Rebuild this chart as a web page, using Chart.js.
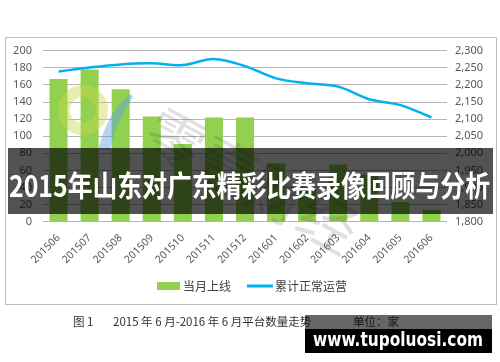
<!DOCTYPE html>
<html>
<head>
<meta charset="utf-8">
<script src="https://cdn.jsdelivr.net/npm/chart.js@4.4.1/dist/chart.umd.min.js"></script>
<style>
  html, body { margin: 0; padding: 0; background: #fff; }
  #wrap { width: 500px; height: 362px; position: relative; }
</style>
</head>
<body>
<div id="wrap"><canvas id="c" width="500" height="362"></canvas></div>
<script>
/* data */
var months = ['201506', '201507', '201508', '201509', '201510', '201511', '201512',
              '201601', '201602', '201603', '201604', '201605', '201606'];
var monthlyNew = [167, 178, 155, 123, 91, 122, 122, 68, 40, 67, 55, 23, 14];
var cumulative = [2239, 2251, 2260, 2263, 2258, 2276, 2255, 2219, 2205, 2195, 2158, 2141, 2105];
var seriesNames = ['当月上线', '累计正常运营'];
var bannerText = '2015年山东对广东精彩比赛录像回顾与分析';
var captionParts = ['图 1', '2015 年 6 月-2016 年 6 月平台数量走势', '单位：家'];
var siteText = 'www.tupoluosi.com';

var GREEN = '#92D050';
var BLUE = '#00B0F0';
var TICK = '#595959';

/* frame + background */
var framePlugin = {
  id: 'frame',
  beforeDraw: function(chart) {
    var ctx = chart.ctx;
    ctx.save();
    ctx.fillStyle = '#fff';
    ctx.fillRect(0, 0, chart.width, chart.height);
    ctx.strokeStyle = '#bdbdbd';
    ctx.lineWidth = 1;
    ctx.strokeRect(5.5, 37.5, 491, 267);
    ctx.restore();
  }
};

/* faint logo watermark over the plot */
var watermarkPlugin = {
  id: 'watermark',
  afterDatasetsDraw: function(chart) {
    var ctx = chart.ctx;
    ctx.save();
    ctx.strokeStyle = 'rgba(205,215,80,0.45)';
    ctx.lineWidth = 12;
    ctx.beginPath();
    ctx.arc(83, 110, 19, 0, Math.PI * 2);
    ctx.stroke();

    ctx.fillStyle = 'rgba(90,160,225,0.45)';
    ctx.beginPath();
    ctx.moveTo(131, 94);
    ctx.quadraticCurveTo(108, 110, 98, 150);
    ctx.lineTo(110, 150);
    ctx.quadraticCurveTo(118, 118, 133, 97);
    ctx.closePath();
    ctx.fill();

    ctx.translate(150, 125);
    ctx.rotate(0.5);
    ctx.font = '58px "Noto Sans CJK SC"';
    ctx.fillStyle = 'rgba(60,60,60,0.16)';
    ctx.textBaseline = 'middle';
    ctx.fillText('零壹财经', 0, 0);
    ctx.restore();
  }
};

/* legend, banner, caption */
var overlayPlugin = {
  id: 'overlay',
  afterDraw: function(chart) {
    var ctx = chart.ctx;
    var barDs = chart.data.datasets.filter(function(d) { return d.type === 'bar'; })[0];
    var lineDs = chart.data.datasets.filter(function(d) { return d.type === 'line'; })[0];
    ctx.save();

    // legend
    ctx.font = '12px "Noto Sans CJK SC"';
    ctx.textBaseline = 'middle';
    ctx.fillStyle = barDs.backgroundColor;
    ctx.fillRect(157, 282, 23, 8);
    ctx.fillStyle = '#404040';
    ctx.fillText(barDs.label, 183, 286);
    ctx.strokeStyle = lineDs.borderColor;
    ctx.lineWidth = 3;
    ctx.beginPath();
    ctx.moveTo(247, 286);
    ctx.lineTo(273, 286);
    ctx.stroke();
    ctx.fillStyle = '#404040';
    ctx.fillText(lineDs.label, 275, 286);

    // dark banner with title
    ctx.fillStyle = 'rgba(0,0,0,0.68)';
    ctx.fillRect(8, 148, 485, 66);
    ctx.fillStyle = '#fff';
    ctx.font = 'bold 29px "Noto Sans CJK SC"';
    ctx.textAlign = 'left';
    ctx.fillText(bannerText, 9, 186, 481);

    // caption
    ctx.font = '11.5px "Noto Sans CJK SC"';
    ctx.fillStyle = '#333';
    ctx.fillText(captionParts[0], 73, 322);
    ctx.fillText(captionParts[1], 113, 322, 215);
    ctx.fillText(captionParts[2], 353, 322);

    // site label
    ctx.fillStyle = 'rgba(0,0,0,0.6)';
    ctx.fillRect(305, 315, 187, 14);
    ctx.fillStyle = '#000';
    ctx.fillRect(305, 329, 187, 24);
    ctx.fillStyle = '#fff';
    ctx.font = 'bold 19px "DejaVu Sans"';
    ctx.textBaseline = 'alphabetic';
    ctx.fillText(siteText, 313, 346, 170);
    ctx.restore();
  }
};

new Chart(document.getElementById('c'), {
  data: {
    labels: months,
    datasets: [
      {
        type: 'line',
        label: seriesNames[1],
        data: cumulative,
        yAxisID: 'y2',
        borderColor: BLUE,
        borderWidth: 2.5,
        pointRadius: 0,
        tension: 0.35,
        fill: false,
        order: 0
      },
      {
        type: 'bar',
        label: seriesNames[0],
        data: monthlyNew,
        yAxisID: 'y',
        backgroundColor: GREEN,
        categoryPercentage: 1,
        barPercentage: 0.58,
        order: 1
      }
    ]
  },
  options: {
    responsive: false,
    animation: false,
    events: [],
    layout: { padding: { top: 50.7, left: 0, right: 0, bottom: 0 } },
    plugins: { legend: { display: false }, tooltip: { enabled: false } },
    scales: {
      x: {
        grid: { display: false },
        border: { display: false },
        ticks: {
          color: TICK, font: { family: 'Noto Sans', size: 10.5 },
          maxRotation: 45, minRotation: 45, padding: 2, autoSkip: false
        },
        afterFit: function(s) { s.height = 140.3; }
      },
      y: {
        position: 'left',
        min: 0, max: 200,
        ticks: { stepSize: 20, color: TICK, font: { family: 'Noto Sans', size: 11 }, padding: 11 },
        grid: { color: '#b4b4b4', drawTicks: false },
        border: { display: false },
        afterFit: function(s) { s.width = 43; }
      },
      y2: {
        position: 'right',
        min: 1800, max: 2300,
        ticks: {
          stepSize: 50, color: TICK, font: { family: 'Noto Sans', size: 11 }, padding: 8,
          callback: function(v) { return v.toLocaleString('en-US'); }
        },
        grid: { display: false, drawTicks: false },
        border: { display: false },
        afterFit: function(s) { s.width = 53; }
      }
    }
  },
  plugins: [framePlugin, watermarkPlugin, overlayPlugin]
});
</script>
</body>
</html>
